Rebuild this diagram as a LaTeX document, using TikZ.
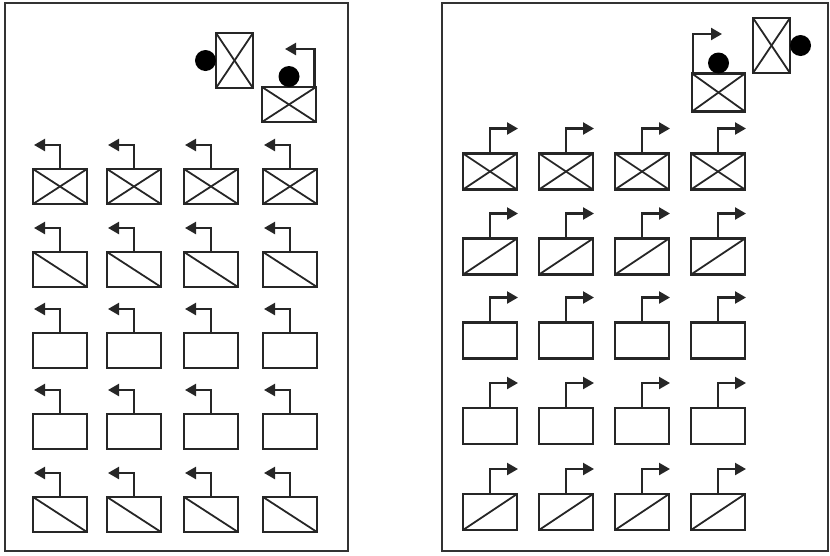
\documentclass[tikz,border=0pt]{standalone}
\usetikzlibrary{arrows.meta}
\begin{document}
\begin{tikzpicture}[x=1pt,y=-1pt,
  panel/.style={draw=black!80,line width=2.4pt},
  box/.style={draw=black!85,line width=2.6pt,rectangle,minimum width=54pt,minimum height=35pt,inner sep=0pt,outer sep=0pt},
  vbox/.style={box,minimum width=37pt,minimum height=55pt},
  dia/.style={line width=1.8pt,black!85},
  stem/.style={line width=2.3pt,black!85,-{Triangle[length=11pt,width=12pt]}},
  dot/.style={circle,fill=black,minimum size=21pt,inner sep=0pt,outer sep=0pt}
]
\useasboundingbox (0,0) rectangle (830,555);
% panels
\draw[panel] (5,3) rectangle (348,551);
\draw[panel] (442,3) rectangle (828,551);

% left panel grid
\foreach \c/\x in {1/60,2/134,3/211,4/290} {
  \foreach \r/\y in {1/186.5,2/269.5,3/350.5,4/431.5,5/514.5} {
    \node[box] (L\r\c) at (\x,\y) {};
    \path (L\r\c.north) ++(-26,-24) coordinate (La\r\c);
    \draw[stem] (L\r\c.north) |- (La\r\c);
  }
  \draw[dia] (L1\c.north west) -- (L1\c.south east);
  \draw[dia] (L1\c.south west) -- (L1\c.north east);
  \draw[dia] (L2\c.north west) -- (L2\c.south east);
  \draw[dia] (L5\c.north west) -- (L5\c.south east);
}

% right panel grid
\foreach \c/\x in {1/490,2/566,3/642,4/718} {
  \foreach \r/\y in {1/171.5,2/256.5,3/340.5,4/426,5/512} {
    \node[box,minimum height=36pt] (R\r\c) at (\x,\y) {};
    \path (R\r\c.north) ++(28,-25) coordinate (Ra\r\c);
    \draw[stem] (R\r\c.north) |- (Ra\r\c);
  }
  \draw[dia] (R1\c.north west) -- (R1\c.south east);
  \draw[dia] (R1\c.south west) -- (R1\c.north east);
  \draw[dia] (R2\c.south west) -- (R2\c.north east);
  \draw[dia] (R5\c.south west) -- (R5\c.north east);
}

% left top devices
\node[vbox] (LV) at (234.5,60.5) {};
\draw[dia] (LV.north west) -- (LV.south east);
\draw[dia] (LV.south west) -- (LV.north east);
\node[dot,anchor=east] (LVd) at (LV.west) {};
\node[box] (LH) at (289,104.5) {};
\draw[dia] (LH.north west) -- (LH.south east);
\draw[dia] (LH.south west) -- (LH.north east);
\node[dot,anchor=south] (LHd) at (LH.north) {};
\coordinate (LHa) at (285,49);
\draw[stem] ([xshift=-1.5pt]LH.north east) |- (LHa);

% right top devices
\node[box,minimum width=53pt,minimum height=38pt] (RH) at (718.5,92.5) {};
\draw[dia] (RH.north west) -- (RH.south east);
\draw[dia] (RH.south west) -- (RH.north east);
\node[dot,anchor=south] (RHd) at (RH.north) {};
\coordinate (RHa) at (722,34);
\draw[stem] ([xshift=1pt]RH.north west) |- (RHa);
\node[vbox] (RV) at (771.5,45.5) {};
\draw[dia] (RV.north west) -- (RV.south east);
\draw[dia] (RV.south west) -- (RV.north east);
\node[dot,anchor=west] (RVd) at (RV.east) {};
\end{tikzpicture}
\end{document}
